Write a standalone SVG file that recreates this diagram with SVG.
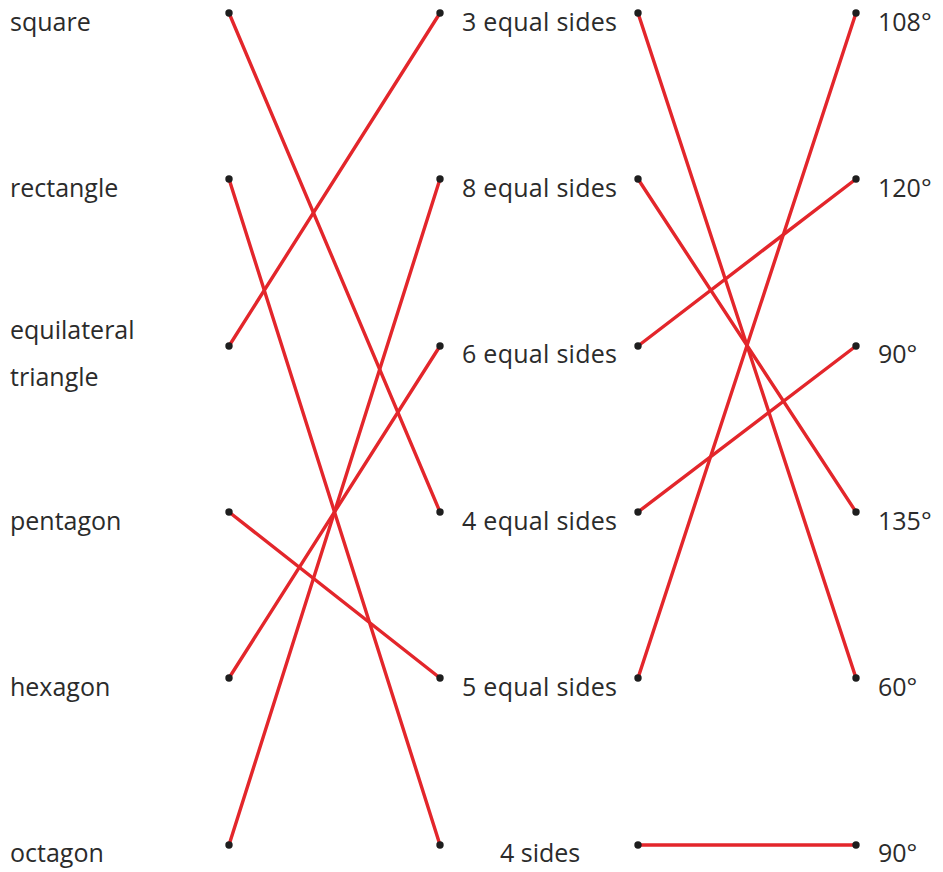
<svg xmlns="http://www.w3.org/2000/svg" width="943" height="872" viewBox="0 0 943 872">
<style>
text{font-family:"Open Sans","Noto Sans",sans-serif;font-size:25px;fill:#2b2b2b}
.c line{stroke:#e3262b;stroke-width:3.4;stroke-linecap:round}
.d circle{fill:#1e1e1e}
</style>
<rect width="943" height="872" fill="#fff"/>
<g id="connectors" class="c">
<line x1="229" y1="13" x2="440" y2="512"/>
<line x1="229" y1="179" x2="440" y2="845"/>
<line x1="229" y1="346" x2="440" y2="13"/>
<line x1="229" y1="512" x2="440" y2="678"/>
<line x1="229" y1="678" x2="440" y2="346"/>
<line x1="229" y1="845" x2="440" y2="179"/>
<line x1="638" y1="13" x2="856" y2="678"/>
<line x1="638" y1="179" x2="856" y2="512"/>
<line x1="638" y1="346" x2="856" y2="179"/>
<line x1="638" y1="512" x2="856" y2="346"/>
<line x1="638" y1="678" x2="856" y2="13"/>
<line x1="638" y1="845" x2="856" y2="845"/>
</g>
<g id="dots" class="d">
<circle cx="229" cy="13" r="3.7"/><circle cx="229" cy="179" r="3.7"/><circle cx="229" cy="346" r="3.7"/><circle cx="229" cy="512" r="3.7"/><circle cx="229" cy="678" r="3.7"/><circle cx="229" cy="845" r="3.7"/>
<circle cx="440" cy="13" r="3.7"/><circle cx="440" cy="179" r="3.7"/><circle cx="440" cy="346" r="3.7"/><circle cx="440" cy="512" r="3.7"/><circle cx="440" cy="678" r="3.7"/><circle cx="440" cy="845" r="3.7"/>
<circle cx="638" cy="13" r="3.7"/><circle cx="638" cy="179" r="3.7"/><circle cx="638" cy="346" r="3.7"/><circle cx="638" cy="512" r="3.7"/><circle cx="638" cy="678" r="3.7"/><circle cx="638" cy="845" r="3.7"/>
<circle cx="856" cy="13" r="3.7"/><circle cx="856" cy="179" r="3.7"/><circle cx="856" cy="346" r="3.7"/><circle cx="856" cy="512" r="3.7"/><circle cx="856" cy="678" r="3.7"/><circle cx="856" cy="845" r="3.7"/>
</g>
<g id="shapes">
<text id="square" x="10" y="31">square</text>
<text id="rectangle" x="10" y="197">rectangle</text>
<text id="equilateral" x="10" y="339">equilateral</text>
<text id="triangle" x="10" y="386">triangle</text>
<text id="pentagon" x="10" y="530">pentagon</text>
<text id="hexagon" x="10" y="696">hexagon</text>
<text id="octagon" x="10" y="862">octagon</text>
</g>
<g id="sides">
<text id="s3" x="462" y="31" textLength="155">3 equal sides</text>
<text id="s8" x="462" y="197" textLength="155">8 equal sides</text>
<text id="s6" x="462" y="363" textLength="155">6 equal sides</text>
<text id="s4" x="462" y="530" textLength="155">4 equal sides</text>
<text id="s5" x="462" y="696" textLength="155">5 equal sides</text>
<text id="s4b" x="500" y="862">4 sides</text>
</g>
<g id="angles">
<text id="a108" x="878" y="31">108°</text>
<text id="a120" x="878" y="197">120°</text>
<text id="a90" x="878" y="363">90°</text>
<text id="a135" x="878" y="530">135°</text>
<text id="a60" x="878" y="696">60°</text>
<text id="a90b" x="878" y="862">90°</text>
</g>
</svg>
